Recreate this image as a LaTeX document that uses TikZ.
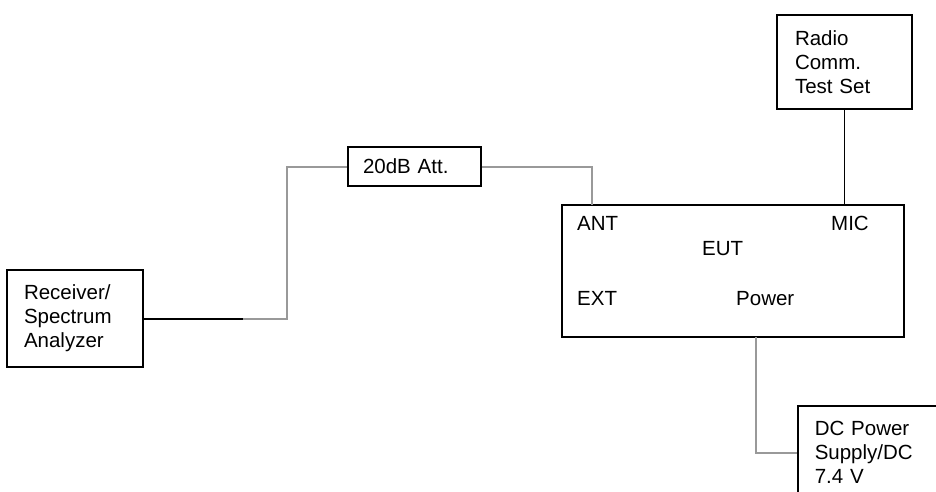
\documentclass[tikz,border=0pt]{standalone}
\usepackage{fontspec}
\setmainfont{Liberation Sans}
\usepackage{tikz}
\usetikzlibrary{positioning,calc}
\definecolor{wiregray}{HTML}{999999}
\tikzset{
  box/.style      = {draw,line width=1.5pt,align=left,inner ysep=0pt},
  port/.style     = {inner sep=0pt,anchor=base west},
  wire/.style     = {draw=black,line width=1.5pt},
  graywire/.style = {draw=wiregray,line width=2pt},
}
\begin{document}
\begin{tikzpicture}[x=1pt,y=-1pt,font=\fontsize{20.5}{24}\selectfont]
  \useasboundingbox (0,0) rectangle (936,492);

  \node[box,minimum width=136pt,minimum height=97pt,text width=102pt,inner xsep=17pt]
       (rx) at (75,318.5) {Receiver/\\Spectrum\\Analyzer};
  \node[box,minimum width=133pt,minimum height=39pt,text width=103pt,inner xsep=15pt]
       (att) at (414.5,166.5) {20dB Att.};
  \node[box,minimum width=342pt,minimum height=132pt] (eut) at (733,271) {};
  \node[box,minimum width=135pt,minimum height=94pt,text width=99pt,inner xsep=18pt]
       (radio) at (844.5,62) {Radio\\Comm.\\Test Set};
  \node[box,anchor=north west,minimum width=160pt,text width=126pt,inner xsep=17pt,
        inner ysep=15pt] (dc) at (797,405) {DC Power\\Supply/DC\\7.4 V};

  % port labels inside the EUT
  \node[port] (ant) at (577,230) {ANT};
  \node[port] (mic) at (831,230) {MIC};
  \node[port] (euttxt) at (702,255) {EUT};
  \node[port] (ext) at (577,305) {EXT};
  \node[port] (pwr) at (736,305) {Power};

  \coordinate (bend) at (243,319);
  \coordinate (antpin) at (592,205);
  \coordinate (pwrpin) at (756,337);
  \coordinate (dcin) at (797,453);

  \draw[wire] (rx.east |- bend) -- (bend);
  \draw[graywire] (bend) -- (287,319) |- (att.west);
  \draw[graywire] (att.east) -| (antpin);
  \draw[wire] (radio.south) -- (radio.south |- eut.north);
  \draw[graywire] (pwrpin) |- (dcin);
\end{tikzpicture}
\end{document}
